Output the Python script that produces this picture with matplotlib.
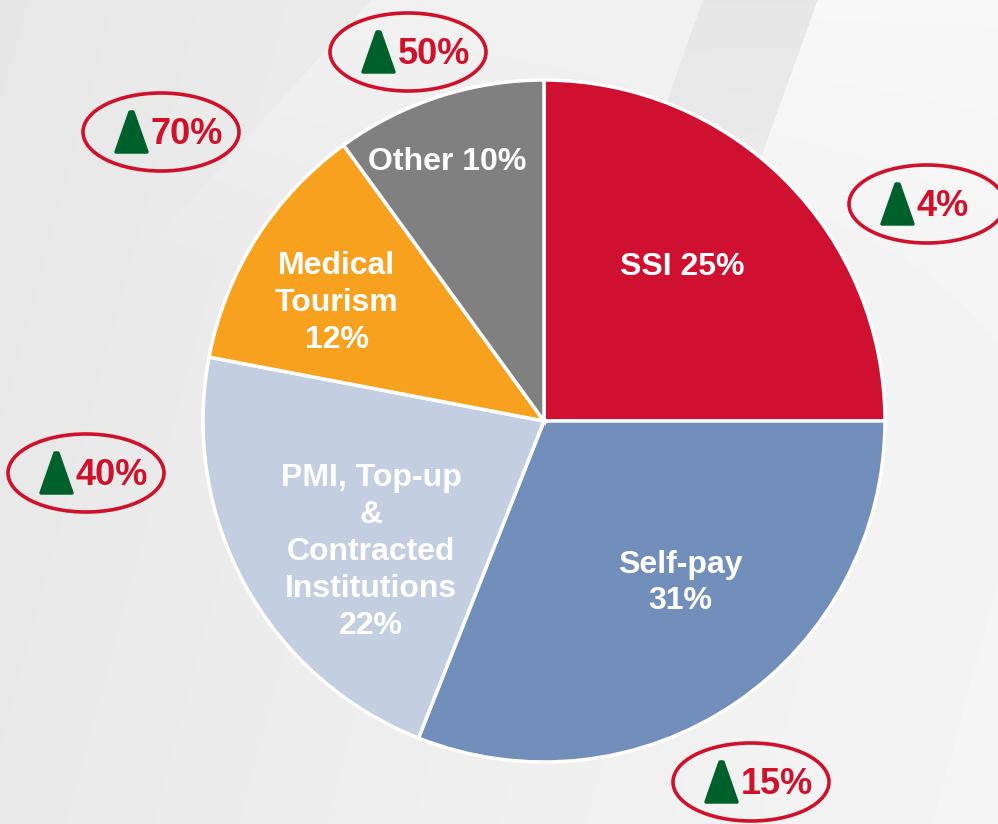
import numpy as np
import matplotlib.pyplot as plt
from matplotlib.patches import Ellipse, Polygon

W, H = 998, 824

# pie data (clockwise from 12 o'clock)
segments = ["SSI 25%", "Self-pay\n31%", "PMI, Top-up\n&\nContracted\nInstitutions\n22%",
            "Medical\nTourism\n12%", "Other 10%"]
shares = [25, 31, 22, 12, 10]
colors = ["#D01030", "#728EBB", "#C3CEE1", "#F8A11F", "#808080"]
# label placement: fraction of radius, angle shift from wedge middle (deg)
label_r = [0.607, 0.62, 0.636, 0.70, 0.81]
label_dth = [3.0, 5.8, 8.3, 2.7, 2.5]

# growth badges
growth = ["4%", "15%", "40%", "70%", "50%"]
badge_xy = [(927, 204), (751, 782), (86, 473), (161, 132), (408, 52)]  # px from top-left

red = "#D0112B"
green = "#00602B"

fig = plt.figure(figsize=(W / 100, H / 100), dpi=100)
ax = fig.add_axes([0, 0, 1, 1])


def fy(y):
    # pixel row -> data y
    return H - y


# background, built as a grey image
X, Y = np.meshgrid(np.arange(W), np.arange(H))
bg = 0.905 + 0.045 * X / W + 0.01 * Y / H
x_left = 702 - 0.35 * Y
x_right = 817 - 0.36 * Y
fade = np.clip(1 - Y / 420, 0, 1)
bg = np.where(X > x_right, bg + (0.97 - bg) * fade, bg)
bg = np.where((X > x_left) & (X <= x_right), bg + (0.902 - bg) * fade, bg)
top_light = (X <= x_left) & (X > 370 - 0.9 * Y)
bg = np.where(top_light, bg + (0.945 - bg) * np.clip(1 - Y / 260, 0, 1), bg)
ax.imshow(bg, cmap="gray", vmin=0, vmax=1, extent=(0, W, 0, H), origin="upper",
          zorder=0, aspect="auto", interpolation="bilinear")

# pie
cx, cy, R = 544, 421, 341
wedges, _ = ax.pie(shares, colors=colors, startangle=90, counterclock=False,
                   center=(cx, fy(cy)), radius=R, frame=True,
                   wedgeprops=dict(edgecolor="white", linewidth=2.5, zorder=3))
for w, lab, r, dth in zip(wedges, segments, label_r, label_dth):
    th = np.deg2rad((w.theta1 + w.theta2) / 2 + dth)
    ax.text(cx + r * R * np.cos(th), fy(cy) + r * R * np.sin(th), lab,
            ha="center", va="center", color="white", fontsize=23, fontweight="bold",
            family="Liberation Sans", linespacing=1.3, zorder=4)

# badges
for (bx, by), g in zip(badge_xy, growth):
    ax.add_patch(Ellipse((bx, fy(by)), 156, 78, fill=False, ec=red, lw=2.6, zorder=5))
    tl = bx - 47
    tri = [(tl + 2, fy(by + 20)), (tl + 33, fy(by + 20)), (tl + 19, fy(by - 20)), (tl + 16, fy(by - 20))]
    ax.add_patch(Polygon(tri, closed=True, fc=green, ec=green, lw=2.5, joinstyle="round", zorder=5))
    ax.text(tl + 37, fy(by + 12), g, ha="left", va="baseline", color=red,
            fontsize=26, fontweight="bold", family="Liberation Sans", zorder=5)

ax.set_xlim(0, W)
ax.set_ylim(0, H)
ax.set_aspect("auto")
ax.axis("off")

fig.savefig("out.png", dpi=100)
